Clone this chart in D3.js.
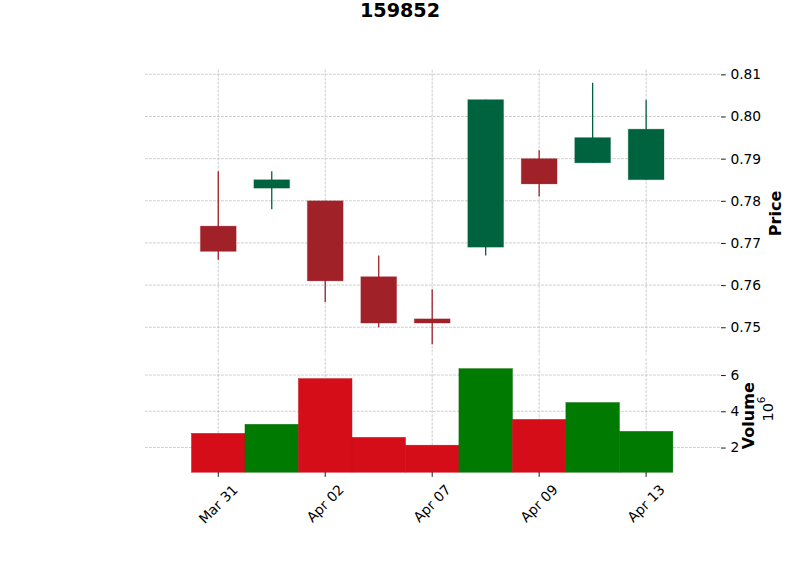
<!DOCTYPE html>
<html>
<head>
<meta charset="utf-8">
<script src="https://cdn.jsdelivr.net/npm/d3@7"></script>
<style>
  html, body { margin: 0; padding: 0; background: #fff; }
  svg { display: block; font-family: "DejaVu Sans", sans-serif; }
</style>
</head>
<body>
<svg id="chart" width="800" height="575"></svg>
<script>
// ---- data ----
const title = "159852";
const dates = ["Mar 31", "Apr 01", "Apr 02", "Apr 03", "Apr 07", "Apr 08", "Apr 09", "Apr 10", "Apr 13"];
const opens  = [0.774, 0.783, 0.780, 0.762, 0.752, 0.769, 0.790, 0.789, 0.785];
const highs  = [0.787, 0.787, 0.780, 0.767, 0.759, 0.804, 0.792, 0.808, 0.804];
const lows   = [0.766, 0.778, 0.756, 0.750, 0.746, 0.767, 0.781, 0.789, 0.785];
const closes = [0.768, 0.785, 0.761, 0.751, 0.751, 0.804, 0.784, 0.795, 0.797];
const volumes = [2780000, 3280000, 5800000, 2560000, 2130000, 6350000, 3550000, 4480000, 2890000];
const xTickIndex = [0, 2, 4, 6, 8];
const priceTicks = [0.75, 0.76, 0.77, 0.78, 0.79, 0.80, 0.81];
const volumeTicks = [2000000, 4000000, 6000000];

// ---- layout ----
const left = 145, right = 721;
const pTop = 69.7, pBot = 357.2;
const vTop = 357.2, vBot = 472.2;
const upC = "#006340", downC = "#A02128";
const vUp = "#007a00", vDown = "#d50d18";
const gridC = "#c0c0c0";
const fs = 13.8;

const svg = d3.select("#chart");
const n = dates.length;

const x = d3.scaleLinear().domain([-1.37, n - 1 + 1.40]).range([left, right]);
const minL = d3.min(lows), maxH = d3.max(highs), r = maxH - minL;
const yP = d3.scaleLinear().domain([minL - 0.05 * r, maxH + 0.05 * r]).range([pBot, pTop]);
const yV = d3.scaleLinear().domain([0.3 * d3.min(volumes), 1.1 * d3.max(volumes)]).range([vBot, vTop]);

const step = x(1) - x(0);
const data = dates.map((d, i) => ({ i, d, o: opens[i], h: highs[i], l: lows[i], c: closes[i], v: volumes[i], up: closes[i] >= opens[i] }));

// ---- grids ----
const grid = svg.append("g").attr("stroke", gridC).attr("stroke-width", 0.8).attr("stroke-dasharray", "2.8,1.2");
grid.selectAll(".hp").data(priceTicks).join("line")
  .attr("class", "hp")
  .attr("x1", left).attr("x2", right).attr("y1", d => yP(d)).attr("y2", d => yP(d));
grid.selectAll(".hv").data(volumeTicks).join("line")
  .attr("class", "hv")
  .attr("x1", left).attr("x2", right).attr("y1", d => yV(d)).attr("y2", d => yV(d));
grid.selectAll(".vp").data(xTickIndex).join("line")
  .attr("class", "vp")
  .attr("x1", d => x(d)).attr("x2", d => x(d)).attr("y1", pTop).attr("y2", pBot - 2);
grid.selectAll(".vv").data(xTickIndex).join("line")
  .attr("class", "vv")
  .attr("x1", d => x(d)).attr("x2", d => x(d)).attr("y1", vTop + 1).attr("y2", vBot);

// ---- candles ----
const cg = svg.append("g");
cg.selectAll(".wick").data(data).join("line")
  .attr("class", "wick")
  .attr("x1", d => x(d.i)).attr("x2", d => x(d.i))
  .attr("y1", d => yP(d.h)).attr("y2", d => yP(d.l))
  .attr("stroke", d => d.up ? upC : downC).attr("stroke-width", 1.3);
const bw = 0.67 * step;
cg.selectAll(".body").data(data).join("rect")
  .attr("class", "body")
  .attr("x", d => x(d.i) - bw / 2).attr("width", bw)
  .attr("y", d => yP(Math.max(d.o, d.c)))
  .attr("height", d => Math.max(1, Math.abs(yP(d.o) - yP(d.c))))
  .attr("fill", d => d.up ? upC : downC)
  .attr("stroke", d => d.up ? "rgba(0,99,64,0.25)" : "rgba(160,33,40,0.25)")
  .attr("stroke-width", 1);

// ---- volume ----
svg.append("g").selectAll("rect").data(data).join("rect")
  .attr("x", d => x(d.i - 0.5)).attr("width", step)
  .attr("y", d => yV(d.v)).attr("height", d => vBot - yV(d.v))
  .attr("fill", d => d.up ? vUp : vDown)
  .attr("stroke", d => d.up ? "#0a6e0a" : "#c20f19").attr("stroke-width", 0.5);

// ---- right axes ----
const yAxisP = d3.axisRight(yP).tickValues(priceTicks).tickFormat(d3.format(".2f")).tickSize(4.7).tickPadding(4.7);
const yAxisV = d3.axisRight(yV).tickValues(volumeTicks).tickFormat(d => d3.format("d")(d / 1e6)).tickSize(4.7).tickPadding(4.7);
[yAxisP, yAxisV].forEach(ax => {
  const g = svg.append("g").attr("transform", `translate(${right},0)`).call(ax);
  g.select(".domain").remove();
  g.selectAll(".tick line").attr("stroke", "#000").attr("stroke-width", 0.9);
  g.selectAll(".tick text").attr("font-size", fs).attr("font-family", "DejaVu Sans").attr("fill", "#000");
});

// ---- x axis (bottom of volume panel) ----
const xg = svg.append("g");
xg.selectAll("line").data(xTickIndex).join("line")
  .attr("x1", d => x(d)).attr("x2", d => x(d))
  .attr("y1", vBot).attr("y2", vBot + 4.7)
  .attr("stroke", "#000").attr("stroke-width", 0.9);
const xt = xg.selectAll("text").data(xTickIndex).join("text")
  .attr("font-size", fs).attr("fill", "#000")
  .attr("text-anchor", "middle")
  .text(d => dates[d]);
xt.each(function(d) {
  const w = this.getComputedTextLength();
  const top = vBot + 4.7 + 4.7;
  const cy = top + (w + 1.164 * fs) / (2 * Math.SQRT2);
  const cx = x(d);
  d3.select(this).attr("x", cx).attr("y", cy).attr("dy", "0.346em")
    .attr("transform", `rotate(-45,${cx},${cy})`);
});

// ---- labels ----
svg.append("text").attr("x", 400).attr("y", 17)
  .attr("text-anchor", "middle").attr("font-size", 19.2).attr("font-weight", "bold")
  .attr("fill", "#000").text(title);

svg.append("text").attr("transform", `translate(780.5,${(pTop + pBot) / 2}) rotate(-90)`)
  .attr("text-anchor", "middle").attr("font-size", 16).attr("font-weight", "bold")
  .attr("fill", "#000").text("Price");

svg.append("text").attr("transform", `translate(754,${(vTop + vBot) / 2 + 1}) rotate(-90)`)
  .attr("text-anchor", "middle").attr("font-size", 16).attr("font-weight", "bold")
  .attr("fill", "#000").text("Volume");

const off = svg.append("text").attr("transform", `translate(773,409) rotate(-90)`)
  .attr("text-anchor", "middle").attr("font-size", 14.5).attr("fill", "#000");
off.append("tspan").text("10");
off.append("tspan").attr("font-size", 10.5).attr("dy", "-0.75em").text("6");
</script>
</body>
</html>
